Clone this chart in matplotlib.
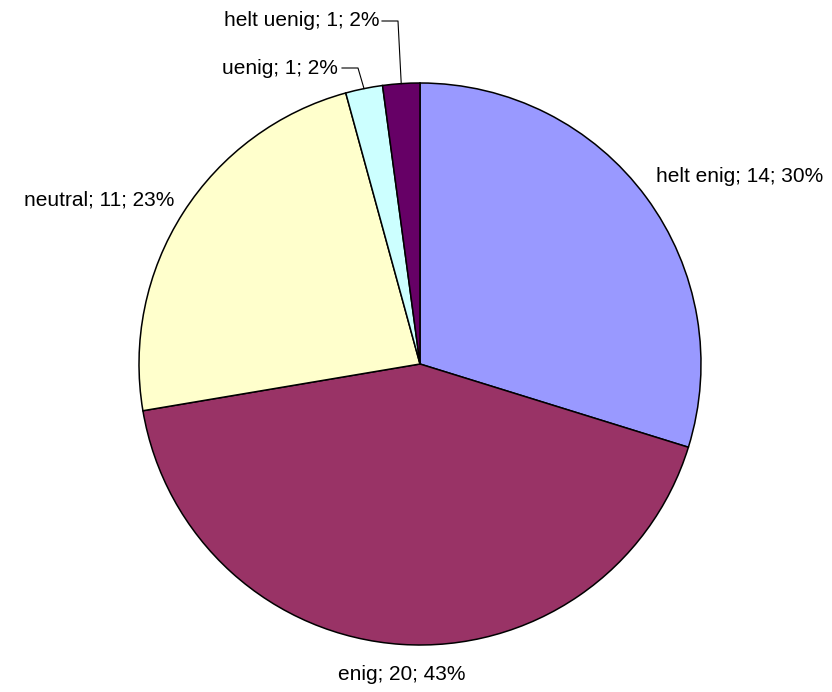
import numpy as np
import matplotlib
matplotlib.use("Agg")
import matplotlib.pyplot as plt

categories = ["helt enig", "enig", "neutral", "uenig", "helt uenig"]
values = [14, 20, 11, 1, 1]
colors = ["#9999FF", "#993366", "#FFFFCC", "#CCFFFF", "#660066"]

W, H = 832, 692
fig = plt.figure(figsize=(W / 100, H / 100), dpi=100)
ax = fig.add_axes([0, 0, 1, 1])

cx, cy, R = 420, H - 364, 281
wedges, _ = ax.pie(values, colors=colors, startangle=90, counterclock=False,
                   center=(cx, cy), radius=R, frame=True,
                   wedgeprops=dict(edgecolor="black", linewidth=1.1))
ax.set_xlim(0, W)
ax.set_ylim(0, H)
ax.set_aspect("equal")
ax.axis("off")

total = sum(values)
labels = [f"{c}; {v}; {round(100 * v / total):d}%" for c, v in zip(categories, values)]

font = dict(family=["Liberation Sans", "DejaVu Sans"], fontsize=15, color="black")

# label placement (pixel coords from top-left): (x, y, ha, leader?)
placements = [
    (656, 176, "left", None),
    (402, 675, "center", None),
    (174, 200, "right", None),
    (338, 68, "right", (342, 358)),
    (379, 21, "right", (382, 398)),
]

for w, lab, (x, y, ha, lead) in zip(wedges, labels, placements):
    ax.text(x, H - y, lab, ha=ha, va="center", **font)
    if lead is not None:
        mid = np.deg2rad((w.theta1 + w.theta2) / 2)
        ex, ey = cx + R * np.cos(mid), cy + R * np.sin(mid)
        ax.plot([lead[0], lead[1], ex], [H - y, H - y, ey], color="black", lw=0.8)

fig.savefig("out.png", dpi=100, facecolor="white")
